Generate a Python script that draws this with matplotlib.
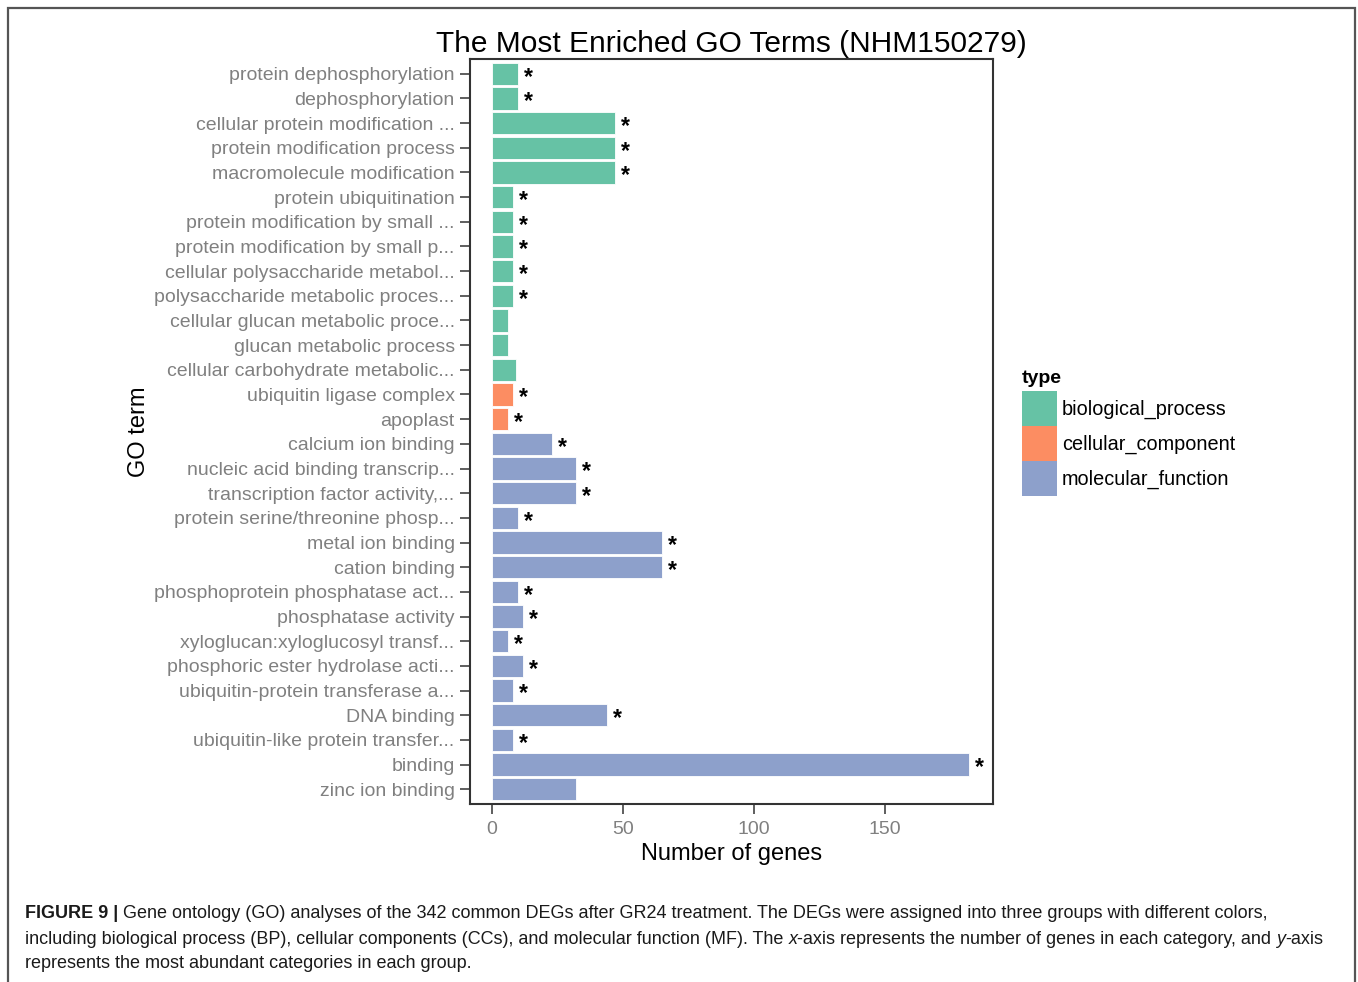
import matplotlib
matplotlib.use("Agg")
import matplotlib.pyplot as plt
from matplotlib.patches import Patch, Rectangle
from matplotlib import font_manager

# ---------------- data ----------------
terms = [
    "protein dephosphorylation",
    "dephosphorylation",
    "cellular protein modification ...",
    "protein modification process",
    "macromolecule modification",
    "protein ubiquitination",
    "protein modification by small ...",
    "protein modification by small p...",
    "cellular polysaccharide metabol...",
    "polysaccharide metabolic proces...",
    "cellular glucan metabolic proce...",
    "glucan metabolic process",
    "cellular carbohydrate metabolic...",
    "ubiquitin ligase complex",
    "apoplast",
    "calcium ion binding",
    "nucleic acid binding transcrip...",
    "transcription factor activity,...",
    "protein serine/threonine phosp...",
    "metal ion binding",
    "cation binding",
    "phosphoprotein phosphatase act...",
    "phosphatase activity",
    "xyloglucan:xyloglucosyl transf...",
    "phosphoric ester hydrolase acti...",
    "ubiquitin-protein transferase a...",
    "DNA binding",
    "ubiquitin-like protein transfer...",
    "binding",
    "zinc ion binding",
]
counts = [10, 10, 47, 47, 47, 8, 8, 8, 8, 8, 6, 6, 9, 8, 6,
          23, 32, 32, 10, 65, 65, 10, 12, 6, 12, 8, 44, 8, 182, 32]
types = (["biological_process"] * 13 + ["cellular_component"] * 2
         + ["molecular_function"] * 15)
significant = [1, 1, 1, 1, 1, 1, 1, 1, 1, 1, 0, 0, 0, 1, 1,
               1, 1, 1, 1, 1, 1, 1, 1, 1, 1, 1, 1, 1, 1, 0]
type_names = ["biological_process", "cellular_component", "molecular_function"]
type_colors = {"biological_process": "#66C2A5",
               "cellular_component": "#FC8D62",
               "molecular_function": "#8DA0CB"}
x_ticks = [0, 50, 100, 150]

title = "The Most Enriched GO Terms (NHM150279)"
xlabel = "Number of genes"
ylabel = "GO term"

# ---------------- fonts ----------------
avail = {f.name for f in font_manager.fontManager.ttflist}
base_font = "Liberation Sans" if "Liberation Sans" in avail else "DejaVu Sans"
plt.rcParams["font.family"] = [base_font, "DejaVu Sans"]

W, H = 1358, 982
fig = plt.figure(figsize=(W / 100, H / 100), dpi=100)

# outer frame
fig.patches.append(Rectangle((8 / W, -0.01), (1355 - 8) / W, 1 - 8 / H + 0.01,
                             transform=fig.transFigure, fill=False,
                             edgecolor="#555555", linewidth=1.6))

ax = fig.add_axes([470 / W, 1 - 804 / H, (993 - 470) / W, (804 - 59) / H])

ypos = list(range(len(terms)))
colors = [type_colors[t] for t in types]
ax.barh(ypos, counts, height=0.9, color=colors, edgecolor="white", linewidth=0.6)

ax.set_xlim(-8.4, 191.2)
ax.set_ylim(len(terms) - 0.4, -0.6)

for y, c, s in zip(ypos, counts, significant):
    if s:
        ax.annotate("*", xy=(c, y), xytext=(4.2, -2.5), textcoords="offset points",
                    ha="left", va="center", fontsize=16.5, color="black",
                    fontweight="bold")

ax.set_yticks(ypos)
ax.set_yticklabels(terms)
ax.set_xticks(x_ticks)
ax.tick_params(axis="both", colors="#333333", labelcolor="#808080",
               labelsize=14, length=7, width=1.1)
ax.tick_params(axis="y", pad=4)
ax.tick_params(axis="x", pad=5)
for sp in ax.spines.values():
    sp.set_color("#333333")
    sp.set_linewidth(1.5)

ax.set_xlabel(xlabel, fontsize=17, color="black", labelpad=4)
ax.set_ylabel(ylabel, fontsize=17, color="black")
ax.yaxis.set_label_coords((150 - 470) / (993 - 470), 0.5)
ax.set_title(title, fontsize=21.5, color="black", pad=5)

# legend
handles = [Patch(facecolor=type_colors[t], edgecolor="none", label=t) for t in type_names]
leg = fig.legend(handles=handles, title="type", loc="upper left",
                 bbox_to_anchor=(1014 / W, 1 - 362 / H), frameon=False,
                 fontsize=14.3, title_fontproperties={"weight": "bold", "size": 14},
                 handlelength=1.76, handleheight=2.33, labelspacing=0.0,
                 handletextpad=0.25, borderaxespad=0, borderpad=0.4)
leg._legend_box.align = "left"
leg._legend_box.sep = 3

# caption (mixed styles, placed piece by piece)
fig.canvas.draw()
renderer = fig.canvas.get_renderer()
cap_size = 12.95
lines = [
    [("FIGURE 9 | ", "bold", "normal"),
     ("Gene ontology (GO) analyses of the 342 common DEGs after GR24 treatment. The DEGs were assigned into three groups with different colors,", "normal", "normal")],
    [("including biological process (BP), cellular components (CCs), and molecular function (MF). The ", "normal", "normal"),
     ("x", "normal", "italic"),
     ("-axis represents the number of genes in each category, and ", "normal", "normal"),
     ("y", "normal", "italic"),
     ("-axis", "normal", "normal")],
    [("represents the most abundant categories in each group.", "normal", "normal")],
]
line_y = [913, 939, 964]
for pieces, ly in zip(lines, line_y):
    x = 25
    for txt, wt, st in pieces:
        t = fig.text(x / W, 1 - ly / H, txt, fontsize=cap_size, fontweight=wt,
                     fontstyle=st, color="#1a1a1a", ha="left", va="center")
        bb = t.get_window_extent(renderer=renderer)
        x += bb.width

fig.savefig("out.png", dpi=100)
